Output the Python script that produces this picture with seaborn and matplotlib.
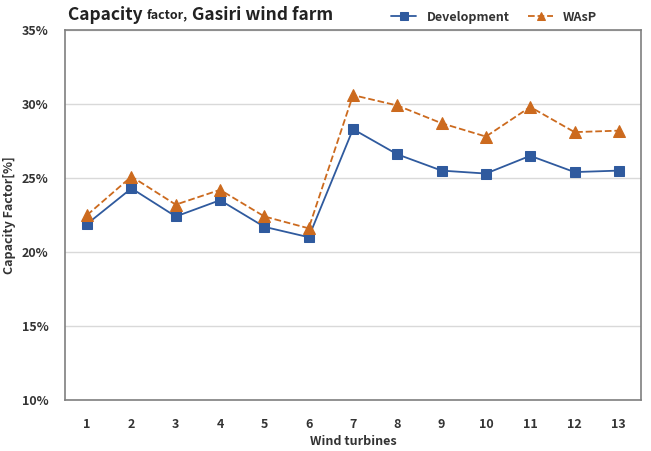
import matplotlib
matplotlib.use("Agg")
import matplotlib.pyplot as plt
import seaborn as sns
import pandas as pd
from matplotlib.ticker import FuncFormatter

turbines = list(range(1, 14))
development = [21.9, 24.3, 22.4, 23.5, 21.7, 21.0, 28.3, 26.6, 25.5, 25.3, 26.5, 25.4, 25.5]
wasp = [22.5, 25.1, 23.2, 24.2, 22.4, 21.6, 30.6, 29.9, 28.7, 27.8, 29.8, 28.1, 28.2]
yticks = [10, 15, 20, 25, 30, 35]

sns.set_style("white")
plt.rcParams['font.family'] = ['Noto Sans CJK KR', 'DejaVu Sans']

df = pd.DataFrame({'turbine': turbines, 'Development': development, 'WAsP': wasp})

fig = plt.figure(figsize=(6.51, 4.51), dpi=100)
ax = fig.add_axes([65 / 651, 51 / 451, 576 / 651, 370 / 451])

blue = '#2F5A9E'
orange = '#CC6A1E'
sns.lineplot(data=df, x='turbine', y='Development', ax=ax, color=blue, marker='s',
             markersize=7, markeredgecolor=blue, linewidth=1.3, label='Development')
sns.lineplot(data=df, x='turbine', y='WAsP', ax=ax, color=orange, marker='^',
             markersize=8, markeredgecolor=orange, linewidth=1.3, linestyle='--',
             label='WAsP')

ax.set_xlim(0.5, 13.5)
ax.set_ylim(10, 35)
ax.set_xticks(turbines)
ax.set_yticks(yticks)
ax.yaxis.set_major_formatter(FuncFormatter(lambda v, p: f"{v:.0f}%"))
ax.grid(axis='y', color='#D9D9D9', linewidth=1)
ax.set_axisbelow(True)
for s in ax.spines.values():
    s.set_color('#7F7F7F')
    s.set_linewidth(1.2)
ax.tick_params(axis='both', direction='in', length=3, color='#7F7F7F', labelsize=9)
ax.tick_params(axis='x', pad=13)
ax.tick_params(axis='y', pad=12)
for lab in ax.get_xticklabels() + ax.get_yticklabels():
    lab.set_fontweight('bold')
    lab.set_color('#333333')

ax.set_xlabel('Wind turbines', fontsize=9, fontweight='bold', color='#333333', labelpad=3)
ax.set_ylabel('Capacity Factor[%]', fontsize=9, fontweight='bold', color='#333333', labelpad=4)

leg = ax.legend(loc='lower right', bbox_to_anchor=(0.935, 1.0), ncol=2, frameon=False,
                handlelength=2.0, columnspacing=1.5, borderaxespad=0.1, markerscale=0.75,
                prop={'weight': 'bold', 'size': 9})
for t in leg.get_texts():
    t.set_color('#333333')

# title with a smaller "factor," on the same baseline
fig.canvas.draw()
r = fig.canvas.get_renderer()
x0, ybase = 68, 451 - 20
for txt, size, dy in [('Capacity ', 12.5, 0), ('factor,', 9, 1.5), (' Gasiri wind farm', 12.5, 0)]:
    t = fig.text(x0 / 651, (ybase + dy) / 451, txt, fontsize=size, fontweight='bold',
                 color='#222222', va='baseline', ha='left')
    x0 += t.get_window_extent(r).width

fig.savefig('out.png', dpi=100)
